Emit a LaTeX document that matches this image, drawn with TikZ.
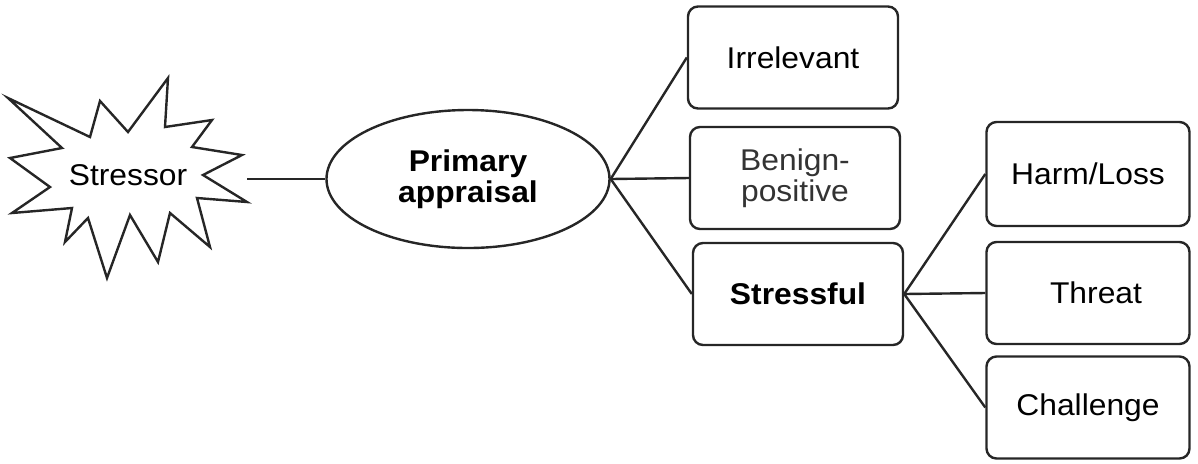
\documentclass[tikz,border=0pt]{standalone}
\usepackage{fontspec}
\setmainfont{Liberation Sans}[FakeStretch=1.06]
\usetikzlibrary{shapes.geometric}
\begin{document}
\begin{tikzpicture}[x=0.5pt,y=-0.5pt,
  every node/.style={font=\fontsize{15}{15.5}\selectfont},
  outline/.style={draw=black!85,line width=1.2pt},
  box/.style={outline,rounded corners=5pt,minimum width=105pt,minimum height=51pt,align=center,inner sep=0pt},
  link/.style={draw=black!85,line width=1.2pt}]
\useasboundingbox (0,0) rectangle (1198,463);
% starburst
\draw[outline,line join=miter] (8,98) -- (90,137) -- (100,101) -- (128,132) -- (168,78) -- (165,127) -- (212,120) -- (192,147) -- (242,155) -- (203,175) -- (247,202) -- (197,198) -- (210,247) -- (170,213) -- (158,262) -- (130,215) -- (107,278) -- (88,218) -- (65,242) -- (72,208) -- (12,213) -- (50,187) -- (10,158) -- (62,148) -- cycle;
\node (stressor) at (128,175) {Stressor};
\coordinate (sright) at (247,179);
% ellipse
\node[outline,ellipse,minimum width=141.5pt,minimum height=69pt,align=center,inner sep=0pt] (primary) at (468,179) {\bfseries Primary\\[0pt]\bfseries appraisal};
% first column
\node[box] (irr) at (793,57.5) {Irrelevant};
\node[box,text=black!80] (ben) at (795,178) {Benign-\\positive};
\node[box] (str) at (798,294) {\bfseries Stressful};
% second column
\node[box,minimum width=101.5pt,minimum height=52pt] (harm) at (1088,174) {Harm/Loss};
\node[box,minimum width=101.5pt] (thr) at (1088,293) {\hspace*{8pt}Threat};
\node[box,minimum width=101.5pt] (cha) at (1088,407.5) {Challenge};
% connectors
\draw[link] (sright) -- (primary.west);
\draw[link] (primary.east) -- (irr.west);
\draw[link] (primary.east) -- (ben.west);
\draw[link] (primary.east) -- (str.west);
\draw[link] (str.east) -- (harm.west);
\draw[link] (str.east) -- (thr.west);
\draw[link] (str.east) -- (cha.west);
\end{tikzpicture}
\end{document}
